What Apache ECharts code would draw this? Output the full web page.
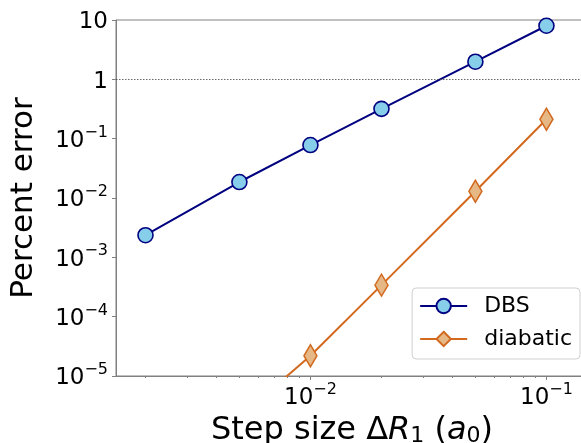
<!DOCTYPE html>
<html>
<head>
<meta charset="utf-8">
<script src="https://cdn.jsdelivr.net/npm/echarts@6/dist/echarts.min.js"></script>
<style>
  html, body { margin: 0; padding: 0; background: #fff; }
  #chart { width: 581px; height: 443px; }
</style>
</head>
<body>
<div id="chart"></div>
<script>
// Convergence of the percent error with the integration step size
const dbsSteps = [0.002, 0.005, 0.01, 0.02, 0.05, 0.1];
const dbsError = [0.00236, 0.0186, 0.078, 0.318, 1.98, 8.0];
const diabaticSteps = [0.005, 0.01, 0.02, 0.05, 0.1];
const diabaticError = [2.0e-6, 2.2e-5, 3.4e-4, 0.013, 0.213];

const xMajorTicks = [0.01, 0.1];
const xMinorTicks = [0.002, 0.003, 0.004, 0.005, 0.006, 0.007, 0.008, 0.009,
                     0.02, 0.03, 0.04, 0.05, 0.06, 0.07, 0.08, 0.09];
const yTicks = [1e-5, 1e-4, 1e-3, 1e-2, 1e-1, 1, 10];
const referenceLevel = 1;

const FONT = 'DejaVu Sans';
const AXIS_GRAY = '#808080';

// 10^n labels written as base + superscript exponent
function powerLabel(v) {
  const e = Math.round(Math.log10(v));
  if (e === 0) return '{b|1}';
  if (e === 1) return '{b|10}';
  return '{b|10}{s|' + (e < 0 ? '\u2212' : '') + Math.abs(e) + '}';
}
const powerRich = {
  b: { fontFamily: FONT, fontSize: 23, color: '#000', lineHeight: 28, verticalAlign: 'bottom' },
  s: { fontFamily: FONT, fontSize: 16, color: '#000', lineHeight: 16, verticalAlign: 'top' }
};

const chart = echarts.init(document.getElementById('chart'), null, { renderer: 'canvas' });

chart.setOption({
  animation: false,
  backgroundColor: '#fff',
  grid: {
    left: 116, top: 20, right: -7, bottom: 67,
    containLabel: false,
    outerBoundsMode: 'none',
    show: true, borderColor: AXIS_GRAY, borderWidth: 1, backgroundColor: 'transparent'
  },
  legend: {
    orient: 'vertical',
    right: 1, top: 288,
    padding: [7, 8, 9, 7],
    itemGap: 11,
    itemWidth: 47,
    itemHeight: 18,
    backgroundColor: '#fff',
    borderColor: '#d0d0d0',
    borderWidth: 1,
    borderRadius: 4,
    textStyle: { fontFamily: FONT, fontSize: 22, color: '#000', padding: [0, 0, 0, 12] },
    data: ['DBS', 'diabatic']
  },
  xAxis: [
    {
      type: 'log', logBase: 10, min: 0.0015, max: 0.15,
      position: 'bottom',
      name: 'Step size \u0394{i|R}{sub|1} ({i|a}{sub|0})',
      nameLocation: 'middle',
      nameGap: 33,
      nameTextStyle: {
        fontFamily: FONT, fontSize: 32, color: '#000', lineHeight: 32, verticalAlign: 'top',
        rich: {
          i: { fontFamily: FONT, fontSize: 32, fontStyle: 'italic', color: '#000', lineHeight: 32, verticalAlign: 'top' },
          sub: { fontFamily: FONT, fontSize: 22, color: '#000', lineHeight: 18, verticalAlign: 'bottom' }
        }
      },
      axisLine: { show: true, lineStyle: { color: AXIS_GRAY, width: 1 } },
      axisTick: { show: true, length: 4, customValues: xMajorTicks, lineStyle: { color: AXIS_GRAY } },
      axisLabel: { customValues: xMajorTicks, margin: 6, formatter: powerLabel, rich: powerRich },
      splitLine: { show: false },
      minorTick: { show: false }
    },
    {
      type: 'log', logBase: 10, min: 0.0015, max: 0.15,
      position: 'bottom',
      axisLine: { show: false },
      axisTick: { show: true, length: 2, customValues: xMinorTicks, lineStyle: { color: AXIS_GRAY } },
      axisLabel: { show: false },
      splitLine: { show: false }
    }
  ],
  yAxis: {
    type: 'log', logBase: 10, min: 1e-5, max: 10,
    name: 'Percent error',
    nameLocation: 'middle',
    nameGap: 77,
    nameTextStyle: { fontFamily: FONT, fontSize: 31, color: '#000' },
    axisLine: { show: true, lineStyle: { color: AXIS_GRAY, width: 1 } },
    axisTick: { show: true, length: 4, customValues: yTicks, lineStyle: { color: AXIS_GRAY } },
    axisLabel: { customValues: yTicks, margin: 8, formatter: powerLabel, rich: powerRich },
    splitLine: { show: false }
  },
  series: [
    {
      name: 'DBS',
      type: 'line',
      xAxisIndex: 0,
      data: dbsSteps.map((x, i) => [x, dbsError[i]]),
      symbol: 'circle',
      symbolSize: 15,
      clip: true,
      lineStyle: { color: '#000080', width: 2 },
      itemStyle: { color: '#87CEEB', borderColor: '#000080', borderWidth: 1.6 },
      markLine: {
        silent: true,
        symbol: ['none', 'none'],
        label: { show: false },
        lineStyle: { color: '#444', width: 0.8, type: [1.5, 1.5] },
        data: [{ yAxis: referenceLevel }]
      },
      z: 3
    },
    {
      name: 'diabatic',
      type: 'line',
      xAxisIndex: 0,
      data: diabaticSteps.map((x, i) => [x, diabaticError[i]]),
      symbol: 'diamond',
      symbolSize: [13, 22],
      clip: true,
      lineStyle: { color: '#D2691E', width: 2 },
      itemStyle: { color: '#E5B886', borderColor: '#D2691E', borderWidth: 1.6 },
      z: 3
    }
  ]
});
</script>
</body>
</html>
